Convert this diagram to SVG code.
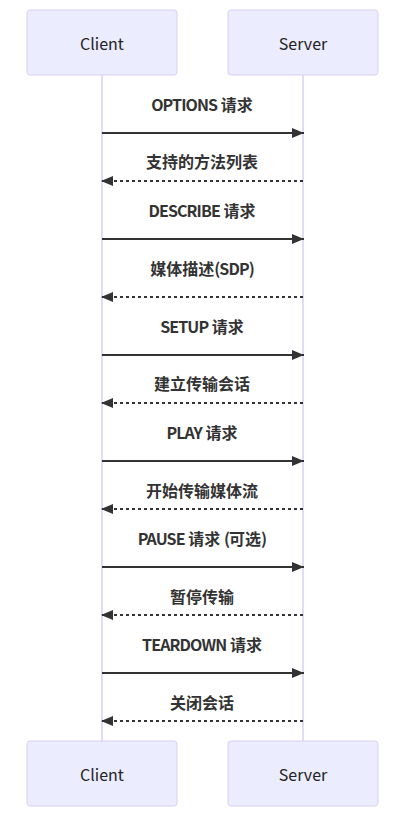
<svg xmlns="http://www.w3.org/2000/svg" width="404" height="822" viewBox="0 0 404 822">
<style>
.actor{fill:#ECECFF;stroke:#DACEF3;stroke-width:1}
.atext{font-family:"Noto Sans CJK SC","Liberation Sans",sans-serif;font-size:16px;fill:#222;text-anchor:middle;dominant-baseline:central}
.life{stroke:#DACEF3;stroke-width:1.5}
.msg{font-family:"Noto Sans CJK SC","Liberation Sans",sans-serif;font-size:16px;font-weight:bold;fill:#333;text-anchor:middle;dominant-baseline:central}
.lat{letter-spacing:-0.9px}
.solid{stroke:#333;stroke-width:2;fill:none}
.dash{stroke:#333;stroke-width:2;fill:none;stroke-dasharray:3,3}
</style>
<defs>
<marker id="ah" viewBox="0 0 12 10" refX="12" refY="5" markerWidth="12" markerHeight="10" markerUnits="userSpaceOnUse" orient="auto">
<path d="M0,0 L12,5 L0,10 z" fill="#333"/>
</marker>
</defs>
<g id="lifelines">
<line class="life" x1="102" y1="75" x2="102" y2="741"/>
<line class="life" x1="303" y1="75" x2="303" y2="741"/>
</g>
<g id="client-top"><rect class="actor" x="27" y="10" width="150" height="65" rx="3"/><text class="atext" x="102" y="43">Client</text></g>
<g id="server-top"><rect class="actor" x="228" y="10" width="150" height="65" rx="3"/><text class="atext" x="303" y="43">Server</text></g>
<g id="client-bottom"><rect class="actor" x="27" y="741" width="150" height="65" rx="3"/><text class="atext" x="102" y="774">Client</text></g>
<g id="server-bottom"><rect class="actor" x="228" y="741" width="150" height="65" rx="3"/><text class="atext" x="303" y="774">Server</text></g>
<g id="connectors">
<line class="solid" x1="102" y1="133" x2="304" y2="133" marker-end="url(#ah)"/>
<line class="dash" x1="303" y1="181" x2="101" y2="181" marker-end="url(#ah)"/>
<line class="solid" x1="102" y1="239" x2="304" y2="239" marker-end="url(#ah)"/>
<line class="dash" x1="303" y1="297" x2="101" y2="297" marker-end="url(#ah)"/>
<line class="solid" x1="102" y1="355" x2="304" y2="355" marker-end="url(#ah)"/>
<line class="dash" x1="303" y1="403" x2="101" y2="403" marker-end="url(#ah)"/>
<line class="solid" x1="102" y1="461" x2="304" y2="461" marker-end="url(#ah)"/>
<line class="dash" x1="303" y1="509" x2="101" y2="509" marker-end="url(#ah)"/>
<line class="solid" x1="102" y1="567" x2="304" y2="567" marker-end="url(#ah)"/>
<line class="dash" x1="303" y1="615" x2="101" y2="615" marker-end="url(#ah)"/>
<line class="solid" x1="102" y1="673" x2="304" y2="673" marker-end="url(#ah)"/>
<line class="dash" x1="303" y1="721" x2="101" y2="721" marker-end="url(#ah)"/>
</g>
<g id="labels">
<text class="msg" x="202" y="104"><tspan class="lat">OPTIONS</tspan> 请求</text>
<text class="msg" x="202" y="161">支持的方法列表</text>
<text class="msg" x="202" y="210"><tspan class="lat">DESCRIBE</tspan> 请求</text>
<text class="msg" x="202" y="268">媒体描述<tspan class="lat">(SDP)</tspan></text>
<text class="msg" x="202" y="326"><tspan class="lat">SETUP</tspan> 请求</text>
<text class="msg" x="202" y="383">建立传输会话</text>
<text class="msg" x="202" y="432"><tspan class="lat">PLAY</tspan> 请求</text>
<text class="msg" x="202" y="490">开始传输媒体流</text>
<text class="msg" x="202" y="538"><tspan class="lat">PAUSE</tspan> 请求 <tspan class="lat">(</tspan>可选<tspan class="lat">)</tspan></text>
<text class="msg" x="202" y="596">暂停传输</text>
<text class="msg" x="202" y="644"><tspan class="lat">TEARDOWN</tspan> 请求</text>
<text class="msg" x="202" y="702">关闭会话</text>
</g>
</svg>
